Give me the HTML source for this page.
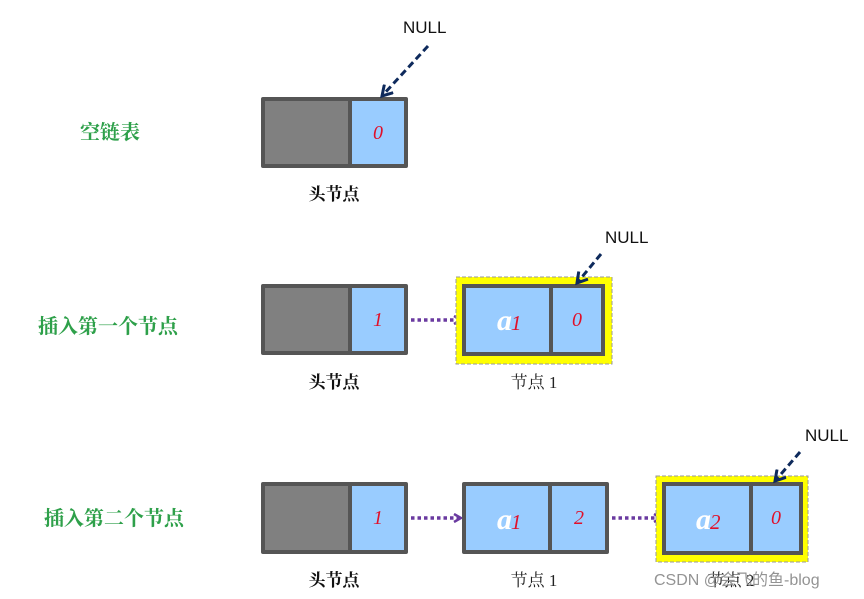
<!DOCTYPE html>
<html><head><meta charset="utf-8"><style>
html,body{margin:0;padding:0;background:#fff;}
svg{display:block;}
.cn{font-family:"Liberation Serif","Noto Serif CJK SC","Noto Sans CJK SC",serif;}
.g{fill:#2ea04a;font-size:20px;font-weight:bold;}
.lbl{fill:#111;font-size:17px;font-weight:bold;}
.num{font-family:"Liberation Serif",serif;font-style:italic;fill:#e0102a;font-size:20px;}
.a{font-family:"Liberation Serif",serif;font-style:italic;font-weight:bold;fill:#fff;font-size:30px;}
.null{font-family:"Liberation Sans",sans-serif;font-size:17px;fill:#111;}
</style></head><body>
<svg width="864" height="599" viewBox="0 0 864 599" xmlns="http://www.w3.org/2000/svg">
<defs>
<marker id="pa" markerWidth="10" markerHeight="10" refX="8" refY="5" orient="auto" markerUnits="userSpaceOnUse">
<path d="M1,1 L8,5 L1,9" fill="none" stroke="#6a3aa0" stroke-width="2.5"/></marker>
<marker id="na" markerWidth="14" markerHeight="14" refX="11" refY="7" orient="auto" markerUnits="userSpaceOnUse">
<path d="M1,1 L11,7 L1,13" fill="none" stroke="#0e2a5c" stroke-width="3"/></marker>
</defs>

<!-- labels left -->
<text class="cn g" x="80" y="139">空链表</text>
<text class="cn g" x="38" y="333">插入第一个节点</text>
<text class="cn g" x="44" y="525">插入第二个节点</text>

<!-- Row 1 head -->
<rect x="261" y="97" width="147" height="71" rx="2" fill="#555"/>
<rect x="265" y="101" width="83" height="63" fill="#808080"/>
<rect x="352" y="101" width="52" height="63" fill="#99ccff"/>
<text class="num" x="378" y="139" text-anchor="middle">0</text>
<text class="cn lbl" x="334" y="200" text-anchor="middle">头节点</text>
<text class="null" x="403" y="33">NULL</text>
<line x1="428" y1="46" x2="382" y2="96" stroke="#0e2a5c" stroke-width="3" stroke-dasharray="7,4" marker-end="url(#na)"/>

<!-- Row 2 head -->
<rect x="261" y="284" width="147" height="71" rx="2" fill="#555"/>
<rect x="265" y="288" width="83" height="63" fill="#808080"/>
<rect x="352" y="288" width="52" height="63" fill="#99ccff"/>
<text class="num" x="378" y="326" text-anchor="middle">1</text>
<text class="cn lbl" x="334" y="388" text-anchor="middle">头节点</text>
<line x1="411" y1="320" x2="461" y2="320" stroke="#6a3aa0" stroke-width="3.5" stroke-dasharray="3.5,3" marker-end="url(#pa)"/>
<!-- Row 2 node1 -->
<rect x="456" y="277" width="156" height="87" fill="#ffff00" stroke="#999" stroke-width="1" stroke-dasharray="4,2"/>
<rect x="462" y="284" width="143" height="72" fill="#555"/>
<rect x="466" y="288" width="83" height="64" fill="#99ccff"/>
<rect x="553" y="288" width="48" height="64" fill="#99ccff"/>
<text class="a" x="497" y="330">a</text><text class="num" x="511" y="330" style="font-size:21px">1</text>
<text class="num" x="577" y="326" text-anchor="middle">0</text>
<text class="cn" x="534" y="388" text-anchor="middle" style="font-size:17px;fill:#222">节点 1</text>
<text class="null" x="605" y="243">NULL</text>
<line x1="601" y1="254" x2="577" y2="283" stroke="#0e2a5c" stroke-width="3" stroke-dasharray="7,4" marker-end="url(#na)"/>

<!-- Row 3 head -->
<rect x="261" y="482" width="147" height="72" rx="2" fill="#555"/>
<rect x="265" y="486" width="83" height="64" fill="#808080"/>
<rect x="352" y="486" width="52" height="64" fill="#99ccff"/>
<text class="num" x="378" y="524" text-anchor="middle">1</text>
<text class="cn lbl" x="334" y="586" text-anchor="middle">头节点</text>
<line x1="411" y1="518" x2="461" y2="518" stroke="#6a3aa0" stroke-width="3.5" stroke-dasharray="3.5,3" marker-end="url(#pa)"/>
<!-- Row 3 node1 -->
<rect x="462" y="482" width="147" height="72" rx="2" fill="#555"/>
<rect x="466" y="486" width="82" height="64" fill="#99ccff"/>
<rect x="552" y="486" width="53" height="64" fill="#99ccff"/>
<text class="a" x="497" y="529">a</text><text class="num" x="511" y="529" style="font-size:21px">1</text>
<text class="num" x="579" y="524" text-anchor="middle">2</text>
<text class="cn" x="534" y="586" text-anchor="middle" style="font-size:17px;fill:#222">节点 1</text>
<line x1="612" y1="518" x2="661" y2="518" stroke="#6a3aa0" stroke-width="3.5" stroke-dasharray="3.5,3" marker-end="url(#pa)"/>
<!-- Row 3 node2 -->
<rect x="656" y="476" width="152" height="86" fill="#ffff00" stroke="#999" stroke-width="1" stroke-dasharray="4,2"/>
<rect x="662" y="482" width="141" height="73" fill="#555"/>
<rect x="666" y="486" width="83" height="65" fill="#99ccff"/>
<rect x="753" y="486" width="46" height="65" fill="#99ccff"/>
<text class="a" x="696" y="529">a</text><text class="num" x="710" y="529" style="font-size:21px">2</text>
<text class="num" x="776" y="524" text-anchor="middle">0</text>
<text class="cn" x="731" y="586" text-anchor="middle" style="font-size:17px;fill:#222">节点 2</text>
<text class="null" x="805" y="441">NULL</text>
<line x1="800" y1="452" x2="775" y2="481" stroke="#0e2a5c" stroke-width="3" stroke-dasharray="7,4" marker-end="url(#na)"/>

<!-- watermark -->
<text x="654" y="585" style="font-family:'Liberation Sans','Noto Sans CJK SC',sans-serif;font-size:16px;fill:#888;opacity:0.9">CSDN @会飞的鱼-blog</text>
</svg>
</body></html>
